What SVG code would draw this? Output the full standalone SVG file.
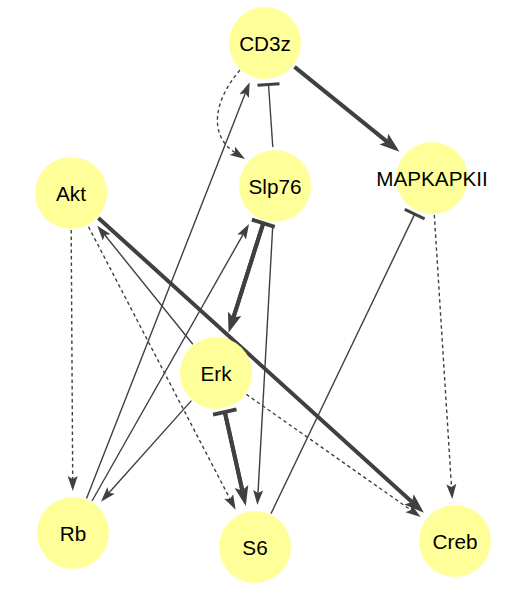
<svg xmlns="http://www.w3.org/2000/svg" width="526" height="590" viewBox="0 0 526 590">
<style>
.node circle{fill:#ffff99;stroke:none}
.node text{font-family:"Liberation Sans",Arial,sans-serif;font-size:20.7px;fill:#000;text-anchor:middle}
.e{fill:none;stroke:#404040;stroke-width:1.4}
.thick{stroke-width:4}
.dash{stroke-dasharray:3.5,3}
.ah{marker-end:url(#arr)}
.aT{marker-end:url(#arrT)}
.t{marker-end:url(#tee)}
.tT{marker-end:url(#teeT)}
</style>
<defs>
<marker id="arr" markerUnits="userSpaceOnUse" orient="auto" refX="3" refY="0" markerWidth="20" markerHeight="14" viewBox="0 -7 20 14" overflow="visible">
<path d="M0,-5 L15,0 L0,5 L3,0 Z" fill="#404040"/>
</marker>
<marker id="arrT" markerUnits="userSpaceOnUse" orient="auto" refX="4" refY="0" markerWidth="24" markerHeight="18" viewBox="0 -9 24 18" overflow="visible">
<path d="M0,-7 L20,0 L0,7 L4,0 Z" fill="#404040"/>
</marker>
<marker id="tee" markerUnits="userSpaceOnUse" orient="auto" refX="0" refY="0" markerWidth="6" markerHeight="24" viewBox="-3 -12 6 24" overflow="visible">
<rect x="-1.5" y="-11" width="3" height="22" fill="#404040"/>
</marker>
<marker id="teeT" markerUnits="userSpaceOnUse" orient="auto" refX="0" refY="0" markerWidth="6" markerHeight="26" viewBox="-3 -13 6 26" overflow="visible">
<rect x="-2" y="-12" width="4" height="24" fill="#404040"/>
</marker>
</defs>
<g id="edges">
<path class="e thick aT" d="M294.5,66.9 L387,141.6"/>
<path class="e dash ah" d="M240,70 C214,100 208,135 234.9,152.5"/>
<path class="e t" d="M272.8,147 L268.5,84.5"/>
<path class="e ah" d="M86.5,498.6 L245.3,93.3"/>
<path class="e ah" d="M92,501 L243.1,234.4"/>
<path class="e ah" d="M191.4,400.6 L109,492.7"/>
<path class="e thick aT" d="M263.3,223.2 L233.4,317.6"/>
<path class="e thick tT" d="M233.4,317.6 L263.3,223.2"/>
<path class="e thick aT" d="M224.8,412 L242.3,490.4"/>
<path class="e thick tT" d="M242.3,490.4 L224.8,412"/>
<path class="e ah" d="M272.8,224.9 L258,493.1"/>
<path class="e dash ah" d="M88.5,226.7 L230.1,499.1"/>
<path class="e dash ah" d="M71.2,230 L72.7,479"/>
<path class="e ah" d="M192.8,344.2 L104.8,235"/>
<path class="e thick aT" d="M98.4,217.9 L412,502"/>
<path class="e dash ah" d="M246.3,394.3 L410.8,510"/>
<path class="e dash ah" d="M434.3,214.9 L451.5,487.1"/>
<path class="e t" d="M271,513.6 L414.7,214.1"/>
</g>
<g id="CD3z" class="node"><circle cx="265" cy="43" r="36"/><text x="265" y="50.5">CD3z</text></g>
<g id="Slp76" class="node"><circle cx="275" cy="186" r="36"/><text x="275" y="193.5">Slp76</text></g>
<g id="MAPKAPKII" class="node"><circle cx="432" cy="178" r="36"/><text x="432" y="185.5">MAPKAPKII</text></g>
<g id="Akt" class="node"><circle cx="71" cy="193" r="36"/><text x="71" y="200.5">Akt</text></g>
<g id="Erk" class="node"><circle cx="216" cy="373" r="36"/><text x="216" y="380.5">Erk</text></g>
<g id="Rb" class="node"><circle cx="73" cy="533" r="36"/><text x="73" y="540.5">Rb</text></g>
<g id="S6" class="node"><circle cx="255" cy="547" r="36"/><text x="255" y="554.5">S6</text></g>
<g id="Creb" class="node"><circle cx="455" cy="541" r="36"/><text x="455" y="548.5">Creb</text></g>
</svg>
